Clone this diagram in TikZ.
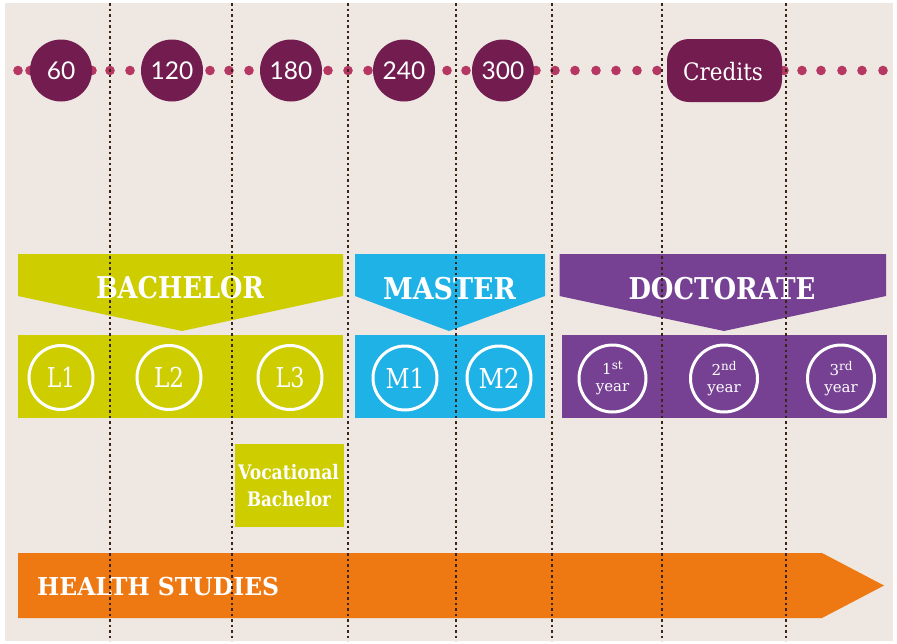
\documentclass[tikz,border=0pt]{standalone}
\usepackage{fontspec}
\usepackage{graphicx}
\setmainfont{DejaVu Serif}
\newfontfamily\numfont{Lato}
\newfontfamily\slab{DejaVu Serif}
\definecolor{bgc}{HTML}{EEE7E2}
\definecolor{cdark}{HTML}{731C4F}
\definecolor{cdot}{HTML}{B63762}
\definecolor{clime}{HTML}{CDCD00}
\definecolor{cblue}{HTML}{1FB2E6}
\definecolor{cpurple}{HTML}{764192}
\definecolor{corange}{HTML}{EE7812}
\definecolor{cline}{HTML}{3B2418}
\newcommand{\fitw}[2]{\resizebox{#1}{\height}{#2}}
\newcommand{\yrsup}[1]{\raisebox{5pt}{\fontsize{12}{14}\selectfont #1}}
\tikzset{
  creditc/.style={circle, fill=cdark, minimum size=62pt, inner sep=0pt, text=white, font=\numfont\fontsize{24.5}{27}\selectfont},
  ring/.style={circle, draw=white, line width=3pt, minimum size=64pt, inner sep=0pt, text=white, font=\slab\fontsize{27.4}{30}\selectfont},
  yring/.style={circle, draw=white, line width=3pt, minimum size=67pt, inner sep=0pt, text=white, align=center, font=\slab\fontsize{15}{19}\selectfont},
  bigtitle/.style={anchor=base, inner sep=0pt, text=white, font=\slab\bfseries\fontsize{30}{34}\selectfont},
  voctext/.style={anchor=base, inner sep=0pt, text=white, font=\slab\bfseries\fontsize{20}{24}\selectfont},
  gridline/.style={cline, line width=2.6pt, dash pattern=on 2.6pt off 2.9pt},
}
\begin{document}
\begin{tikzpicture}[x=1pt,y=-1pt]
\useasboundingbox (0,0) rectangle (897,643);
\fill[white] (0,0) rectangle (897,643);
\fill[bgc] (5,3) rectangle (893,641);
% dotted credit line
\foreach \x in {18,30,92,110,130,210,229,249,328,348,368,447,466,536,555,575,596,616,637,657,784,802,821,842,862,883}
  \fill[cdot] (\x,70.5) circle (4.8pt);
\node[creditc] (c60) at (61,70.5) {60};
\node[creditc] (c120) at (172,70.5) {120};
\node[creditc] (c180) at (291,70.5) {180};
\node[creditc] (c240) at (404,70.5) {240};
\node[creditc] (c300) at (503,70.5) {300};
\node[fill=cdark, rounded corners=22pt, minimum width=115pt, minimum height=63pt, inner sep=0pt] (credits) at (724.5,70.5) {};
\node[anchor=base, inner sep=0pt, text=white, font=\slab\fontsize{24}{28}\selectfont] (creditstxt) at (723,80) {\fitw{80pt}{Credits}};
% Bachelor
\fill[clime] (18,254) -- (343,254) -- (343,296) -- (182,331) -- (18,296) -- cycle;
\node[bigtitle] (bach) at (180,298.5) {\fitw{168pt}{BACHELOR}};
\fill[clime] (18,335) rectangle (343,418);
\node[ring] (l1) at (61,377.5) {\fitw{28pt}{L1}};
\node[ring] (l2) at (169,377.5) {\fitw{30pt}{L2}};
\node[ring] (l3) at (290,377.5) {\fitw{29pt}{L3}};
% Master
\fill[cblue] (355,254) -- (545,254) -- (545,296) -- (449,331) -- (355,296) -- cycle;
\node[bigtitle] (mast) at (449.5,299) {\fitw{133pt}{MASTER}};
\fill[cblue] (355,335) rectangle (545,418);
\node[ring] (m1) at (405,378) {\fitw{39pt}{M1}};
\node[ring] (m2) at (499,378) {\fitw{41pt}{M2}};
% Doctorate
\fill[cpurple] (559.5,254) -- (886,254) -- (886,296) -- (724,331) -- (559.5,296) -- cycle;
\node[bigtitle] (doct) at (722,299) {\fitw{187pt}{DOCTORATE}};
\fill[cpurple] (562,335) rectangle (887,418);
\node[yring] (y1) at (612.5,378.5) {1\yrsup{st}\\[-2pt]year};
\node[yring] (y2) at (724,378.5) {2\yrsup{nd}\\[-2pt]year};
\node[yring] (y3) at (841,378.5) {3\yrsup{rd}\\[-2pt]year};
% Vocational
\fill[clime] (235,444) rectangle (344,527);
\node[voctext] (voc1) at (288.5,479) {\fitw{101pt}{Vocational}};
\node[voctext] (voc2) at (289,506) {\fitw{84pt}{Bachelor}};
% Health studies
\fill[corange] (18,553) -- (822,553) -- (884,585.5) -- (822,618) -- (18,618) -- cycle;
\node[anchor=base west, inner sep=0pt, text=white, font=\slab\bfseries\fontsize{24.7}{28}\selectfont] (health) at (37,595) {\fitw{242pt}{HEALTH STUDIES}};
% vertical dotted lines
\foreach \x in {110,232,348,456,552,662,786}
  \draw[gridline] (\x,3) -- (\x,641);
\end{tikzpicture}
\end{document}
